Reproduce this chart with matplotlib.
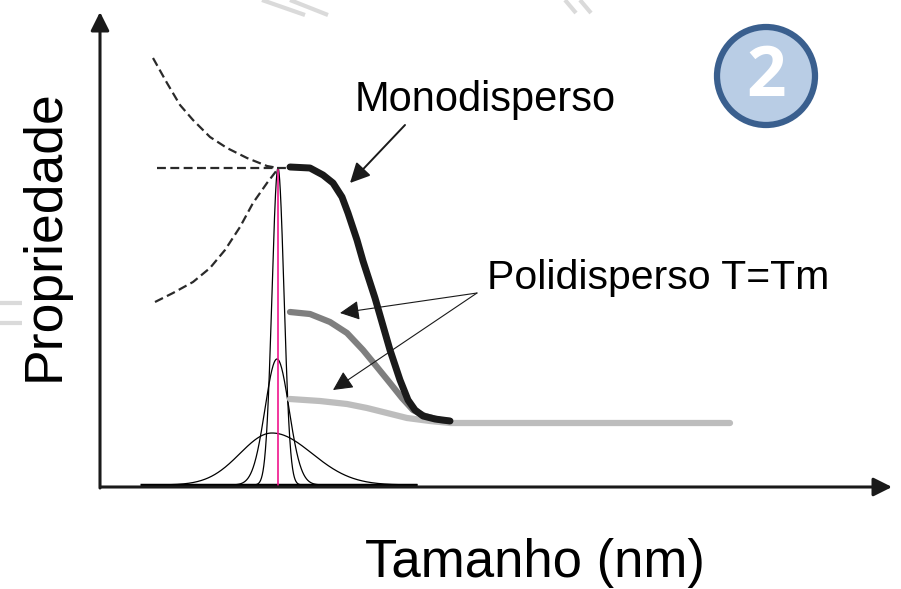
import numpy as np
import matplotlib.pyplot as plt
from matplotlib.patches import Circle

plt.rcParams['font.family'] = ['Liberation Sans', 'DejaVu Sans']

# curvas de propriedade, x = tamanho, y = propriedade
mono_x = [190, 210, 223, 233, 242, 248, 257, 263, 275, 290, 300, 308, 315, 323, 335, 350]
mono_y = [320, 319, 312, 304, 290, 274, 247, 226, 189, 137, 107, 87, 77, 71, 68, 66]

poli1_x = [190, 210, 230, 247, 263, 277, 290, 302, 313, 325, 340, 350]
poli1_y = [175, 173, 165, 154, 137, 120, 104, 89, 77, 71, 67, 66]

poli2_x = [190, 220, 247, 267, 287, 307, 330, 350, 630]
poli2_y = [88, 86, 83, 79, 74, 69, 66, 64, 64]

# curvas tracejadas
dash_sup_x = [53, 67, 80, 93, 110, 127, 147, 167, 178]
dash_sup_y = [429, 404, 382, 367, 350, 339, 329, 321, 319]
dash_hor_x = [57, 190]
dash_hor_y = [319, 319]
dash_inf_x = [55, 73, 93, 110, 125, 140, 153, 167, 177]
dash_inf_y = [185, 194, 205, 219, 237, 260, 284, 304, 317]

# distribuicoes de tamanho: centro, altura, largura esq., largura dir.
dist_centro = [178, 177, 172]
dist_altura = [317, 126, 52]
dist_sig_esq = [6, 12, 32]
dist_sig_dir = [6, 12, 40]
base_y = 2


def pico(x, c, h, se, sd):
    s = np.where(x < c, se, sd)
    return base_y + h * np.exp(-0.5 * ((x - c) / s) ** 2)


fig = plt.figure(figsize=(9.01, 5.89), dpi=100)
ax = fig.add_axes([0, 0, 1, 1])
ax.set_xlim(-100, 801)
ax.set_ylim(-102, 487)
ax.axis('off')

# marcas cinza claras (fundo)
for (x0, y0, x1, y1) in [(162, 487, 205, 472), (190, 487, 228, 472),
                         (465, 487, 476, 474), (480, 487, 491, 474),
                         (-100, 184, -78, 184), (-100, 164, -78, 164)]:
    ax.plot([x0, x1], [y0, y1], color='#dadada', lw=3, solid_capstyle='butt')

# eixos
ax.annotate('', xy=(0, 475), xytext=(0, -1),
            arrowprops=dict(arrowstyle='-|>', lw=2.2, color='#1a1a1a',
                            mutation_scale=28, shrinkA=0, shrinkB=0))
ax.annotate('', xy=(792, 0), xytext=(1, 0),
            arrowprops=dict(arrowstyle='-|>', lw=2.2, color='#1a1a1a',
                            mutation_scale=28, shrinkA=0, shrinkB=0))

# distribuicoes
ax.plot([40, 317], [base_y, base_y], color='black', lw=2.5,
        solid_capstyle='butt')
for c, h, se, sd in zip(dist_centro, dist_altura, dist_sig_esq, dist_sig_dir):
    xs = np.linspace(max(c - 3.6 * se, 40), min(c + 5 * sd, 317), 400)
    ax.plot(xs, pico(xs, c, h, se, sd), color='black', lw=0.9)
ax.plot([178, 178], [base_y, 319], color='#f0148c', lw=1.2)

# tracejadas
for xs, ys in [(dash_sup_x, dash_sup_y), (dash_hor_x, dash_hor_y),
               (dash_inf_x, dash_inf_y)]:
    ax.plot(xs, ys, color='#2a2a2a', lw=1.6, dashes=(4, 2))

# curvas
kw = dict(solid_capstyle='round', solid_joinstyle='round')
ax.plot(poli2_x, poli2_y, color='#bdbdbd', lw=4.5, **kw)
ax.plot(poli1_x, poli1_y, color='#7f7f7f', lw=4.5, **kw)
ax.plot(mono_x, mono_y, color='#1a1a1a', lw=5, **kw)

# setas
seta = dict(arrowstyle='-|>', lw=1.4, color='#1a1a1a', mutation_scale=30,
            shrinkA=0, shrinkB=0)
ax.annotate('', xy=(250, 304), xytext=(305, 362), arrowprops=seta)
seta2 = dict(seta, lw=0.8)
ax.annotate('', xy=(240, 174), xytext=(377, 194), arrowprops=seta2)
ax.annotate('', xy=(233, 97), xytext=(377, 194), arrowprops=seta2)

# textos
ax.text(385, 387, 'Monodisperso', fontsize=30, ha='center', va='center')
ax.text(387, 209, 'Polidisperso T=Tm', fontsize=29.5, ha='left', va='center')
ax.text(-55, 252, 'Propriedade', fontsize=38.5, rotation=90,
        ha='center', va='center')
ax.text(435, -76, 'Tamanho (nm)', fontsize=38, ha='center', va='center')

# numero no circulo
ax.add_patch(Circle((666, 411), 49, facecolor='#b9cde5', edgecolor='#3a5f8e',
                    lw=4.5))
ax.text(666, 409, '2', fontsize=50, fontweight='bold', color='white',
        ha='center', va='center', family=['Open Sans', 'DejaVu Sans'])

fig.savefig('out.png', dpi=100)
